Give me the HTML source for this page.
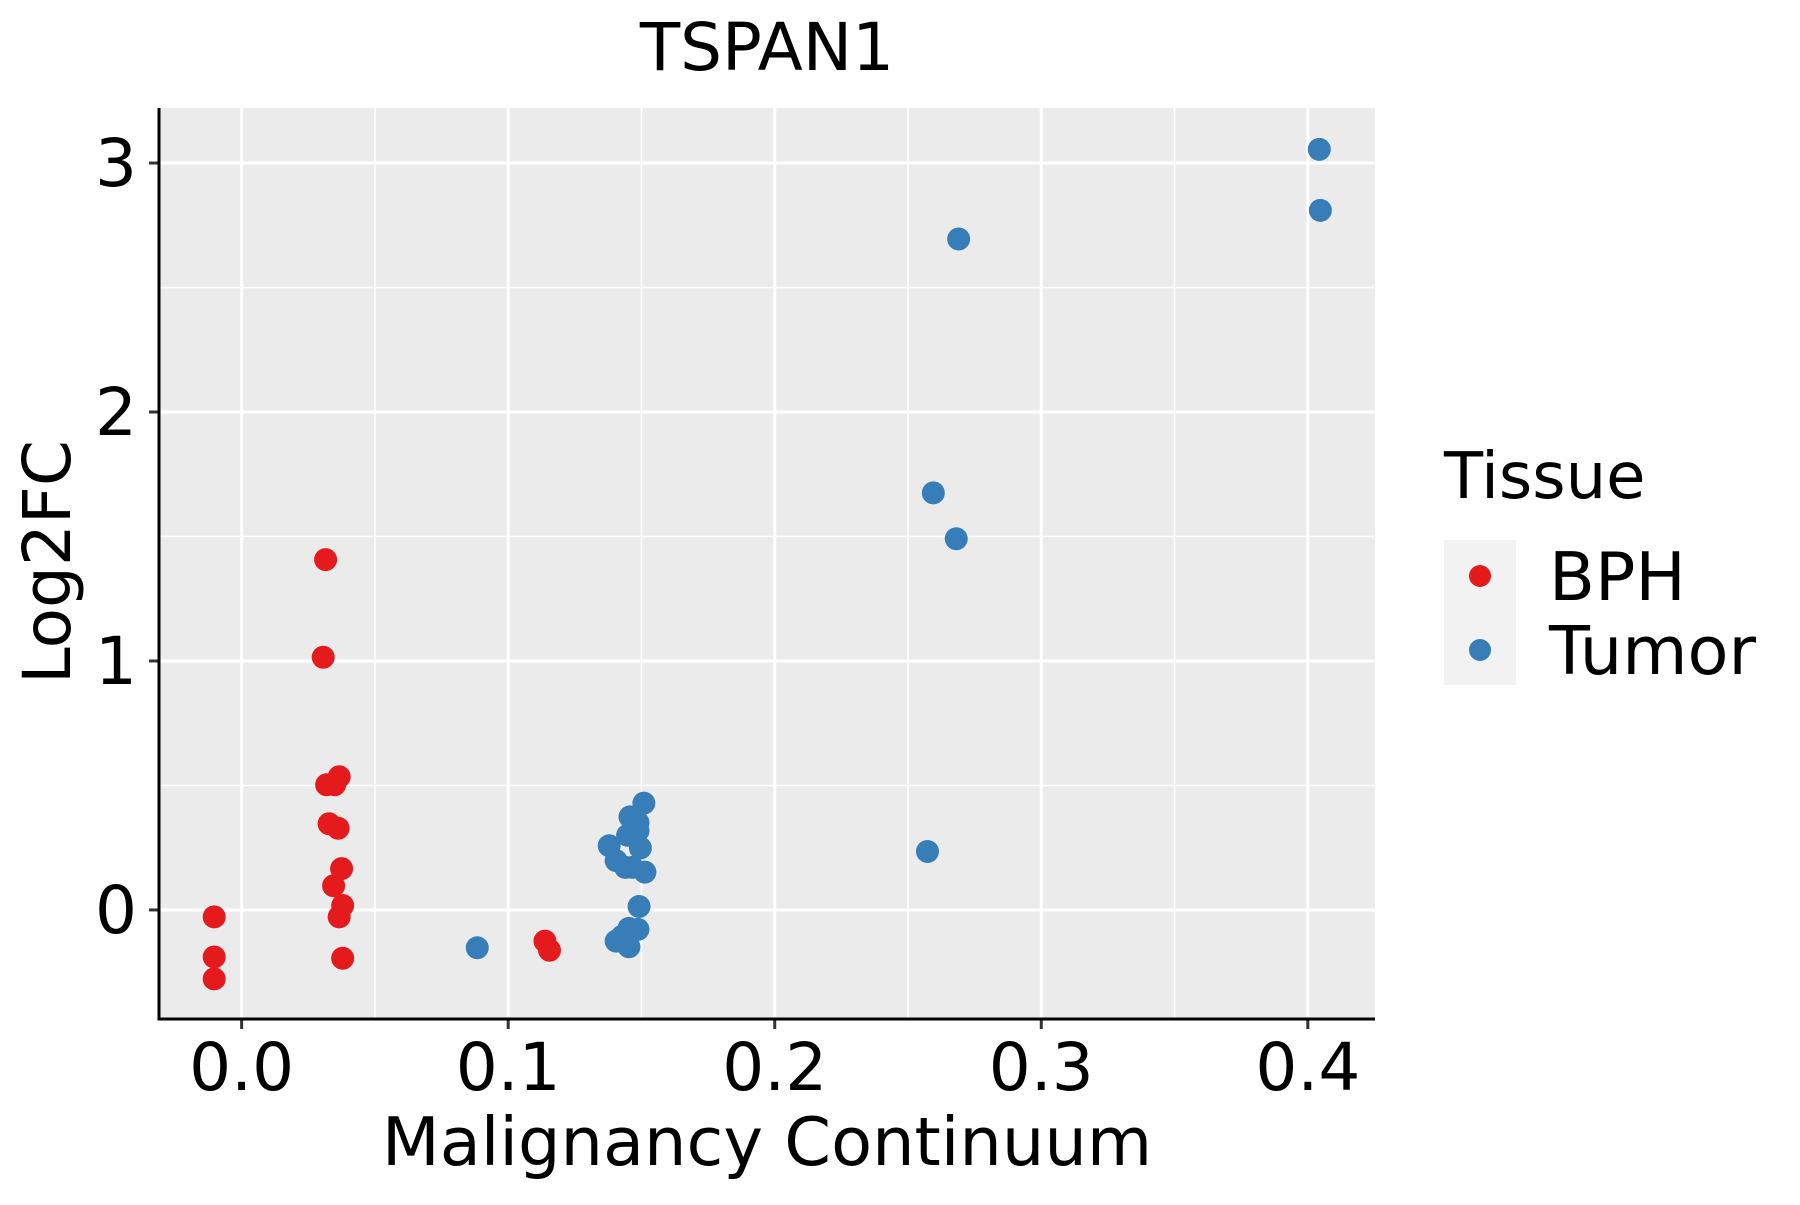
<!DOCTYPE html>
<html><head><meta charset="utf-8"><style>
body{margin:0;background:#fff;}
svg text{font-family:"DejaVu Sans","Liberation Sans",sans-serif;}
</style></head><body>
<svg id="chart" width="1800" height="1200" viewBox="0 0 1800 1200" xmlns="http://www.w3.org/2000/svg">
<rect x="159" y="108" width="1216" height="911" fill="#EBEBEB"/>
<g id="grid"></g>
<g id="pts"></g>
<g id="axes"></g>
<text x="767" y="70" font-size="66" text-anchor="middle">TSPAN1</text>
<text x="767" y="1165" font-size="67" text-anchor="middle">Malignancy Continuum</text>
<text transform="translate(70,562) rotate(-90)" font-size="66" text-anchor="middle">Log2FC</text>
<g>
<text x="1444" y="498" font-size="64">Tissue</text>
<rect x="1444" y="540" width="72" height="145" fill="#F2F2F2"/>
<circle cx="1480" cy="576" r="11" fill="#E41A1C"/>
<circle cx="1480" cy="650" r="11" fill="#377EB8"/>
<text x="1549" y="600" font-size="67">BPH</text>
<text x="1549" y="674" font-size="67">Tumor</text>
</g>
</svg>
<script>
const bphX=[-0.0103,-0.0103,-0.0103,0.0315,0.0306,0.0319,0.0349,0.0366,0.0328,0.0362,0.0375,0.0345,0.0379,0.0366,0.0379,0.1138,0.1155];
const bphY=[-0.028,-0.189,-0.277,1.407,1.015,0.503,0.503,0.535,0.346,0.328,0.166,0.097,0.018,-0.028,-0.194,-0.125,-0.162];
const tumX=[0.0884,0.4043,0.4047,0.269,0.2595,0.2681,0.2573,0.1509,0.1457,0.1487,0.1448,0.1487,0.1379,0.1496,0.1405,0.1440,0.1466,0.1513,0.1491,0.1487,0.1453,0.1427,0.1405,0.1453];
const tumY=[-0.152,3.055,2.810,2.695,1.675,1.491,0.235,0.429,0.374,0.351,0.300,0.318,0.258,0.249,0.198,0.171,0.171,0.152,0.014,-0.078,-0.074,-0.106,-0.125,-0.148];
const xTicks=["0.0","0.1","0.2","0.3","0.4"];
const yTicks=["0","1","2","3"];
const xMinor=[-0.05,0.05,0.15,0.25,0.35];
const yMinor=[-0.5,0.5,1.5,2.5];
const NS="http://www.w3.org/2000/svg";
const L=159,R=1375,T=108,B=1019;
const xd=[-0.031,0.4252], yd=[-0.438,3.221];
const sx=v=>L+(v-xd[0])/(xd[1]-xd[0])*(R-L);
const sy=v=>B-(v-yd[0])/(yd[1]-yd[0])*(B-T);
function mk(tag,attrs,parent){const e=document.createElementNS(NS,tag);for(const k in attrs)e.setAttribute(k,attrs[k]);parent.appendChild(e);return e;}
const grid=document.getElementById('grid'),axes=document.getElementById('axes'),pts=document.getElementById('pts');
xMinor.forEach(v=>{if(sx(v)<L)return;const e=mk('line',{x1:sx(v),x2:sx(v),y1:T,y2:B,stroke:'#fff','stroke-width':1.5},grid);

});
yMinor.forEach(v=>{if(sy(v)>B)return;const e=mk('line',{x1:L,x2:R,y1:sy(v),y2:sy(v),stroke:'#fff','stroke-width':1.5},grid);

});
xTicks.forEach(t=>{const v=+t;const e=mk('line',{x1:sx(v),x2:sx(v),y1:T,y2:B,stroke:'#fff','stroke-width':3},grid);


const k=mk('line',{x1:sx(v),x2:sx(v),y1:B,y2:B+10,stroke:'#333','stroke-width':3},axes);


const l=mk('text',{x:sx(v),y:1090,'font-size':66,'text-anchor':'middle',fill:'#000'},axes);l.textContent=t;

});
yTicks.forEach(t=>{const v=+t;const e=mk('line',{x1:L,x2:R,y1:sy(v),y2:sy(v),stroke:'#fff','stroke-width':3},grid);


const k=mk('line',{x1:L-10,x2:L,y1:sy(v),y2:sy(v),stroke:'#333','stroke-width':3},axes);


const l=mk('text',{x:137,y:sy(v)+23,'font-size':66,'text-anchor':'end',fill:'#000'},axes);l.textContent=t;

});
const ax=mk('line',{x1:L,x2:L,y1:T,y2:B+1.5,stroke:'#000','stroke-width':3},axes);


const ay=mk('line',{x1:L-1.5,x2:R,y1:B,y2:B,stroke:'#000','stroke-width':3},axes);


bphX.forEach((v,i)=>{const c=mk('circle',{cx:sx(v),cy:sy(bphY[i]),r:11.5,fill:'#E41A1C'},pts);

});
tumX.forEach((v,i)=>{const c=mk('circle',{cx:sx(v),cy:sy(tumY[i]),r:11.5,fill:'#377EB8'},pts);

});
</script>
</body></html>
